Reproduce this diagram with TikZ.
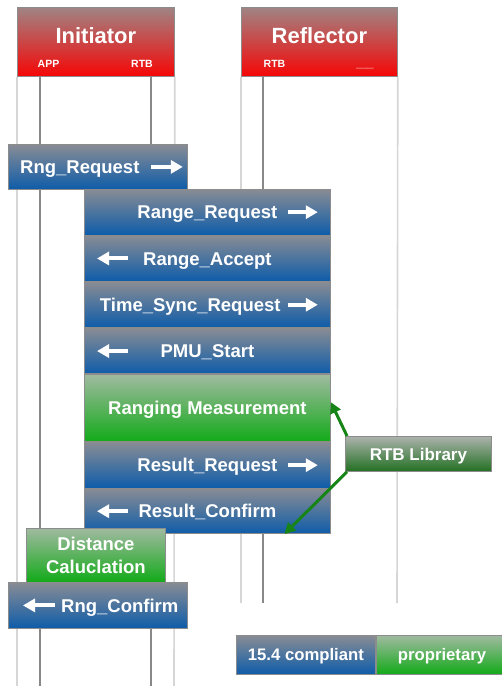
\documentclass[tikz,border=0pt]{standalone}
\usepackage{fontspec}
\setmainfont{Liberation Sans}
\usetikzlibrary{calc}
\usetikzlibrary{arrows.meta, positioning}

\definecolor{bluetop}{RGB}{136,140,148}
\definecolor{bluebot}{RGB}{14,92,170}
\definecolor{greentop}{RGB}{160,186,160}
\definecolor{greenbot}{RGB}{18,170,24}
\definecolor{redtop}{RGB}{160,132,132}
\definecolor{redbot}{RGB}{246,6,6}
\definecolor{libtop}{RGB}{172,178,172}
\definecolor{libbot}{RGB}{34,112,34}
\definecolor{framegray}{RGB}{214,214,214}
\definecolor{lifegray}{RGB}{136,136,136}
\definecolor{edgegray}{RGB}{140,140,140}
\definecolor{pointgreen}{RGB}{22,132,22}

\tikzset{
  boxbase/.style={draw=edgegray, line width=0.8pt, inner sep=0pt, anchor=north west,
    text=white, font=\fontsize{18.5}{23}\selectfont\bfseries},
  msgbox/.style={boxbase, top color=bluetop, bottom color=bluebot,
    minimum width=246pt, minimum height=45.5pt, text height=13.2pt, text depth=0pt},
  procbox/.style={boxbase, top color=greentop, bottom color=greenbot},
  headbox/.style={boxbase, top color=redtop, bottom color=redbot,
    minimum height=69pt},
  msgtext/.style={text=white, inner sep=0pt, text height=13.2pt, text depth=0pt,
    font=\fontsize{18.5}{23}\selectfont\bfseries},
  headtitle/.style={text=white, inner sep=0pt, text height=15.8pt, text depth=0pt,
    font=\fontsize{22}{24}\selectfont\bfseries},
  headsub/.style={text=white, inner sep=0pt, text height=7.5pt, text depth=0pt,
    font=\fontsize{10.5}{12}\selectfont\bfseries},
  legtext/.style={text height=12pt, text depth=0pt,
    font=\fontsize{16.7}{20}\selectfont\bfseries},
  frameline/.style={draw=framegray, line width=1.6pt},
  lifeline/.style={draw=lifegray, line width=2.6pt},
  warrow/.style={draw=white, line width=4pt, -{Triangle[length=12pt,width=13pt]}},
  pointer/.style={draw=pointgreen, line width=3pt, -{Triangle[length=11pt,width=11pt]}}
}

\begin{document}
\begin{tikzpicture}[x=1pt, y=-1pt]
\useasboundingbox (0,0) rectangle (502,686);

% Headers
\node[headbox, minimum width=157pt] (inithead) at (17,7) {};
\node[headbox, minimum width=156pt] (reflhead) at (241,7) {};

% Frame and lifelines of the Initiator
\draw[frameline] (inithead.south west) -- (17,686);
\draw[frameline] (inithead.south east) -- (174,686);
\foreach \x in {40,151}
{
    \draw[lifeline] (\x,76) -- (\x,686);
}

% Frame and lifeline of the Reflector
\draw[frameline] (reflhead.south west) -- (241,603);
\draw[frameline] (reflhead.south east) -- (397,603);
\draw[lifeline] (263,76) -- (263,603);

% Labels for the headers
\node[headtitle] (inittitle) at ($(inithead.north)+(0,28.5)$) {Initiator};
\node[headtitle] (refltitle) at ($(reflhead.north)+(0,28.5)$) {Reflector};
\node[headsub] (initapp) at (48.5,63.5) {APP};
\node[headsub] (initrtb) at (142,63.5) {RTB};
\node[headsub] (reflrtb) at (274.5,63.5) {RTB};
\node[headsub] (reflother) at (365,63.5) {\_\_\_};

% Request from the application
\node[msgbox, minimum width=179pt, minimum height=45pt] (rngreq) at (8,144) {};
\node[msgtext, anchor=west] (rngreqtext) at ([xshift=12pt]rngreq.west) {Rng\_Request};

% Messages between the RTBs
\node[msgbox] (rangereq) at (84,189) {Range\_Request};
\node[msgbox] (rangeacc) at (rangereq.south west) {Range\_Accept};
\node[msgbox] (timesync) at (rangeacc.south west) {};
\node[msgtext, anchor=east] (timesynctext) at ([xshift=-50pt]timesync.east) {Time\_Sync\_Request};
\node[msgbox] (pmustart) at (timesync.south west) {PMU\_Start};
\node[procbox, minimum width=246pt, minimum height=67pt, text height=13.2pt, text depth=0pt] (rangmeas) at (pmustart.south west) {Ranging Measurement};
\node[msgbox] (resreq) at (rangmeas.south west) {Result\_Request};
\node[msgbox, minimum height=45pt] (resconf) at (resreq.south west) {Result\_Confirm};

% Distance and confirm to the application
\node[procbox, minimum width=139pt, minimum height=54pt, align=center] (distcalc) at (26,528) {Distance\\Caluclation};
\node[msgbox, minimum width=179pt, minimum height=46pt] (rngconf) at (8,582) {};
\node[msgtext, anchor=west] (rngconftext) at ([xshift=53pt]rngconf.west) {Rng\_Confirm};

% Direction arrows
\foreach \b in {rangereq,timesync,resreq}
{
    \draw[warrow] ([xshift=-43pt]\b.east) -- ([xshift=-13pt]\b.east);
}
\foreach \b in {rangeacc,pmustart,resconf}
{
    \draw[warrow] ([xshift=44pt]\b.west) -- ([xshift=13pt]\b.west);
}
\draw[warrow] ([xshift=-37pt]rngreq.east) -- ([xshift=-5pt]rngreq.east);
\draw[warrow] ([xshift=47pt]rngconf.west) -- ([xshift=15pt]rngconf.west);

% RTB Library and its pointers
\node[boxbase, top color=libtop, bottom color=libbot, minimum width=146pt, minimum height=35pt,
      text height=12.2pt, text depth=0pt,
      font=\fontsize{17}{20}\selectfont\bfseries] (rtblib) at (345,436) {RTB Library};
\coordinate (cfmtip) at ([xshift=77pt]resconf.south);
\draw[pointer] ([xshift=2pt]rtblib.north west) -- ([yshift=6pt]rangmeas.east);
\draw[pointer] ([xshift=2pt]rtblib.south west) -- (cfmtip);

% Legend
\node[boxbase, legtext, top color=bluetop, bottom color=bluebot, minimum width=139pt,
      minimum height=39pt] (legstd) at (236,635) {15.4 compliant};
\node[boxbase, top color=greentop, bottom color=greenbot, minimum width=134pt,
      minimum height=39pt] (legprop) at (legstd.north east) {};
\node[msgtext, legtext] (legproptext) at (442,654.5) {proprietary};

\end{tikzpicture}
\end{document}
